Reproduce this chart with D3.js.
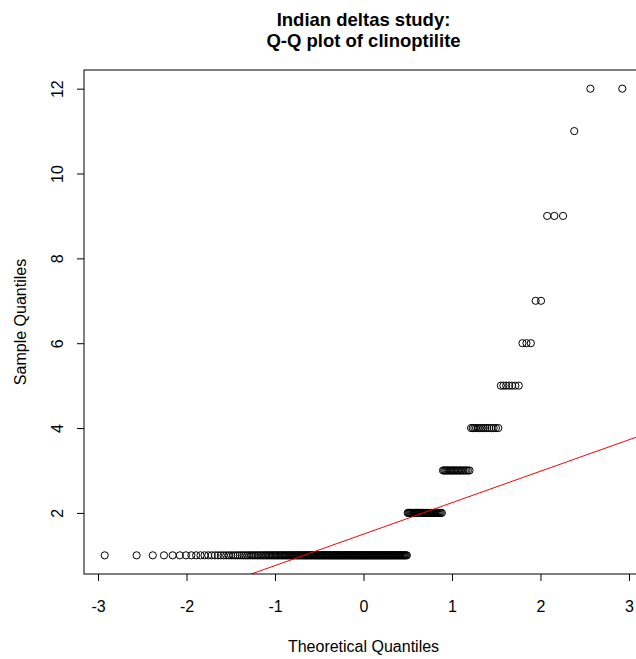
<!DOCTYPE html>
<html>
<head>
<meta charset="utf-8">
<script src="https://cdn.jsdelivr.net/npm/d3@7.9.0/dist/d3.min.js"></script>
<style>
  body { margin: 0; background: #fff; }
  svg { display: block; font-family: "Liberation Sans", Arial, Helvetica, sans-serif; }
</style>
</head>
<body>
<svg id="chart" width="636" height="659"></svg>
<script>
// observed clinoptilite values and how many samples had each value
const sampleValues = [1, 2, 3, 4, 5, 6, 7, 9, 11, 12];
const valueCounts  = [200, 36, 21, 15, 7, 3, 2, 3, 1, 2];
const xTicks = [-3, -2, -1, 0, 1, 2, 3];
const yTicks = [2, 4, 6, 8, 10, 12];
const titleLines = ["Indian deltas study:", "Q-Q plot of clinoptilite"];

// inverse normal CDF (Acklam)
function qnorm(p) {
  const a = [-3.969683028665376e+01, 2.209460984245205e+02, -2.759285104469687e+02, 1.383577518672690e+02, -3.066479806614716e+01, 2.506628277459239e+00];
  const b = [-5.447609879822406e+01, 1.615858368580409e+02, -1.556989798598866e+02, 6.680131188771972e+01, -1.328068155288572e+01];
  const c = [-7.784894002430293e-03, -3.223964580411365e-01, -2.400758277161838e+00, -2.549732539343734e+00, 4.374664141464968e+00, 2.938163982698783e+00];
  const d = [7.784695709041462e-03, 3.224671290700398e-01, 2.445134137142996e+00, 3.754408661907416e+00];
  const pl = 0.02425;
  if (p < pl) {
    const q = Math.sqrt(-2 * Math.log(p));
    return (((((c[0]*q+c[1])*q+c[2])*q+c[3])*q+c[4])*q+c[5]) / ((((d[0]*q+d[1])*q+d[2])*q+d[3])*q+1);
  }
  if (p > 1 - pl) {
    const q = Math.sqrt(-2 * Math.log(1 - p));
    return -(((((c[0]*q+c[1])*q+c[2])*q+c[3])*q+c[4])*q+c[5]) / ((((d[0]*q+d[1])*q+d[2])*q+d[3])*q+1);
  }
  const q = p - 0.5, r = q * q;
  return (((((a[0]*r+a[1])*r+a[2])*r+a[3])*r+a[4])*r+a[5])*q / (((((b[0]*r+b[1])*r+b[2])*r+b[3])*r+b[4])*r+1);
}

// sorted sample, paired with normal quantiles at ppoints(n)
const sample = sampleValues.flatMap((v, i) => d3.range(valueCounts[i]).map(() => v));
const n = sample.length;
const points = sample.map((y, i) => ({ x: qnorm((i + 1 - 0.5) / n), y: y }));

// qqline through the quartiles
const q1 = d3.quantile(sample, 0.25), q3 = d3.quantile(sample, 0.75);
const z1 = qnorm(0.25), z3 = qnorm(0.75);
const slope = (q3 - q1) / (z3 - z1);
const intercept = q1 - slope * z1;

const plot = { left: 84, right: 643, top: 70, bottom: 574 };

function padded(ext) {
  const pad = (ext[1] - ext[0]) * 0.04;
  return [ext[0] - pad, ext[1] + pad];
}
const xDom = padded(d3.extent(points, d => d.x));
const yDom = padded(d3.extent(points, d => d.y));

const x = d3.scaleLinear().domain(xDom).range([plot.left, plot.right]);
const y = d3.scaleLinear().domain(yDom).range([plot.bottom, plot.top]);

const svg = d3.select('#chart');

svg.append('clipPath').attr('id', 'clip')
  .append('rect')
  .attr('x', plot.left).attr('y', plot.top)
  .attr('width', plot.right - plot.left).attr('height', plot.bottom - plot.top);

// points
svg.append('g')
  .selectAll('circle')
  .data(points)
  .join('circle')
  .attr('cx', d => x(d.x))
  .attr('cy', d => y(d.y))
  .attr('r', 3.6)
  .attr('fill', 'none')
  .attr('stroke', '#000')
  .attr('stroke-width', 1);

// reference line
svg.append('line')
  .attr('clip-path', 'url(#clip)')
  .attr('x1', x(xDom[0])).attr('y1', y(intercept + slope * xDom[0]))
  .attr('x2', x(xDom[1])).attr('y2', y(intercept + slope * xDom[1]))
  .attr('stroke', '#ff0000')
  .attr('stroke-width', 1);

// box
svg.append('rect')
  .attr('x', plot.left).attr('y', plot.top)
  .attr('width', plot.right - plot.left).attr('height', plot.bottom - plot.top)
  .attr('fill', 'none')
  .attr('stroke', '#000')
  .attr('stroke-width', 1);

// x axis (plain hyphen for negatives, like R)
const xAxis = svg.append('g')
  .attr('transform', `translate(0,${plot.bottom})`)
  .call(d3.axisBottom(x).tickValues(xTicks).tickSize(7).tickFormat(d => String(d)));
xAxis.select('.domain').remove();
xAxis.selectAll('line').attr('stroke', '#000');
xAxis.selectAll('text')
  .attr('y', 37.7).attr('dy', 0)
  .attr('fill', '#000')
  .style('font-size', '16px')
  .style('font-family', '"Liberation Sans", Arial, sans-serif');

// y axis
const yAxis = svg.append('g')
  .attr('transform', `translate(${plot.left},0)`)
  .call(d3.axisLeft(y).tickValues(yTicks).tickSize(7).tickFormat(d => String(d)));
yAxis.select('.domain').remove();
yAxis.selectAll('line').attr('stroke', '#000');
yAxis.selectAll('text')
  .attr('x', 0).attr('dy', 0)
  .attr('transform', 'translate(-20.7,0) rotate(-90)')
  .attr('text-anchor', 'middle')
  .attr('fill', '#000')
  .style('font-size', '16px')
  .style('font-family', '"Liberation Sans", Arial, sans-serif');

const midX = (plot.left + plot.right) / 2;
const midY = (plot.top + plot.bottom) / 2;

svg.append('text')
  .attr('x', midX).attr('y', 651.7)
  .attr('text-anchor', 'middle')
  .style('font-size', '16px')
  .text('Theoretical Quantiles');

svg.append('text')
  .attr('transform', `translate(26,${midY}) rotate(-90)`)
  .attr('text-anchor', 'middle')
  .style('font-size', '16px')
  .text('Sample Quantiles');

svg.append('g')
  .selectAll('text')
  .data(titleLines)
  .join('text')
  .attr('x', midX)
  .attr('y', (d, i) => 26 + i * 21)
  .attr('text-anchor', 'middle')
  .style('font-size', '18.5px')
  .style('font-weight', 'bold')
  .text(d => d);
</script>
</body>
</html>
